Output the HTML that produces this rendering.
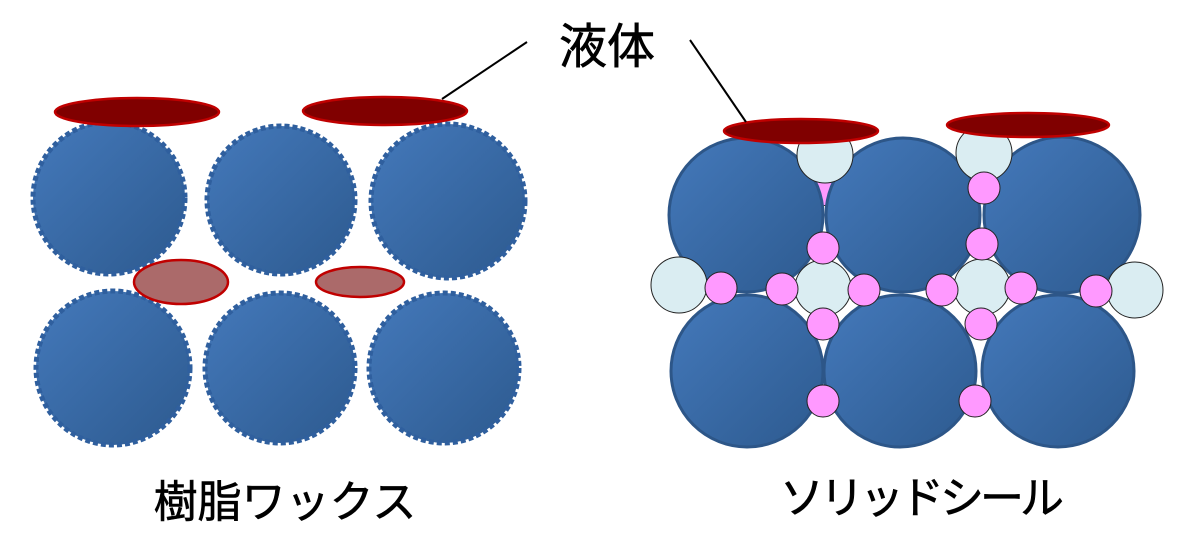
<!DOCTYPE html>
<html><head><meta charset="utf-8"><style>
html,body{margin:0;padding:0;background:#fff;width:1200px;height:543px;overflow:hidden}
svg{display:block}
text{font-family:"Liberation Sans","Noto Sans CJK JP",sans-serif;fill:#000}
</style></head><body>
<svg width="1200" height="543" viewBox="0 0 1200 543">
<defs>
<linearGradient id="b" x1="0" y1="0" x2="1" y2="1">
<stop offset="0" stop-color="#4479bb"/><stop offset="1" stop-color="#2d5a8f"/>
</linearGradient>
</defs>
<g fill="url(#b)" stroke="#2f5f9e" stroke-width="5" stroke-dasharray="5 3">
<circle cx="109" cy="198" r="76"/>
<circle cx="281" cy="200" r="74"/>
<circle cx="448" cy="201" r="77"/>
<circle cx="113" cy="368" r="77"/>
<circle cx="280" cy="368" r="75"/>
<circle cx="444" cy="368" r="75"/>
</g>
<g stroke="#c00000" stroke-width="2.5">
<ellipse cx="137" cy="112" rx="82" ry="14" fill="#800000"/>
<ellipse cx="385" cy="111" rx="82" ry="14" fill="#800000"/>
<ellipse cx="181" cy="282" rx="47" ry="22" fill="#ab6a6a"/>
<ellipse cx="360" cy="282" rx="44" ry="15" fill="#ab6a6a"/>
</g>
<g fill="#ff99ff" stroke="#222" stroke-width="1"><circle cx="821" cy="190" r="16"/></g>
<g fill="url(#b)" stroke="#2d5688" stroke-width="3">
<circle cx="746" cy="215" r="77"/>
<circle cx="903" cy="215" r="77"/>
<circle cx="1062" cy="215" r="78"/>
<circle cx="747" cy="371" r="76"/>
<circle cx="900" cy="371" r="76"/>
<circle cx="1058" cy="371" r="76"/>
</g>
<g fill="#daedf2" stroke="#222" stroke-width="1">
<circle cx="825" cy="155" r="28"/>
<circle cx="984" cy="153" r="28"/>
<circle cx="823" cy="288" r="28"/>
<circle cx="982" cy="287" r="28"/>
<circle cx="679" cy="285" r="28"/>
<circle cx="1135" cy="290" r="28"/>
</g>
<g fill="#ff99ff" stroke="#222" stroke-width="1">
<circle cx="984" cy="188" r="16"/>
<circle cx="823" cy="248" r="16"/>
<circle cx="982" cy="244" r="16"/>
<circle cx="721" cy="288" r="16"/>
<circle cx="782" cy="289" r="16"/>
<circle cx="864" cy="290" r="16"/>
<circle cx="942" cy="290" r="16"/>
<circle cx="1021" cy="288" r="16"/>
<circle cx="1096" cy="291" r="16"/>
<circle cx="823" cy="324" r="16"/>
<circle cx="981" cy="324" r="16"/>
<circle cx="823" cy="401" r="16"/>
<circle cx="975" cy="401" r="16"/>
</g>
<g stroke="#c00000" stroke-width="2.5" fill="#800000">
<ellipse cx="801" cy="131" rx="77" ry="12"/>
<ellipse cx="1028" cy="125" rx="81" ry="12"/>
</g>
<g stroke="#000" stroke-width="2">
<line x1="527" y1="42" x2="442" y2="99"/>
<line x1="690" y1="40" x2="746" y2="122"/>
</g>
<text x="607" y="63" font-size="48" text-anchor="middle" stroke="#000" stroke-width="0.6">液体</text>
<text x="285" y="517" font-size="44" text-anchor="middle" stroke="#000" stroke-width="0.6">樹脂ワックス</text>
<text x="920" y="513" font-size="44" text-anchor="middle" letter-spacing="-4" stroke="#000" stroke-width="0.6">ソリッドシール</text>
</svg>
</body></html>
